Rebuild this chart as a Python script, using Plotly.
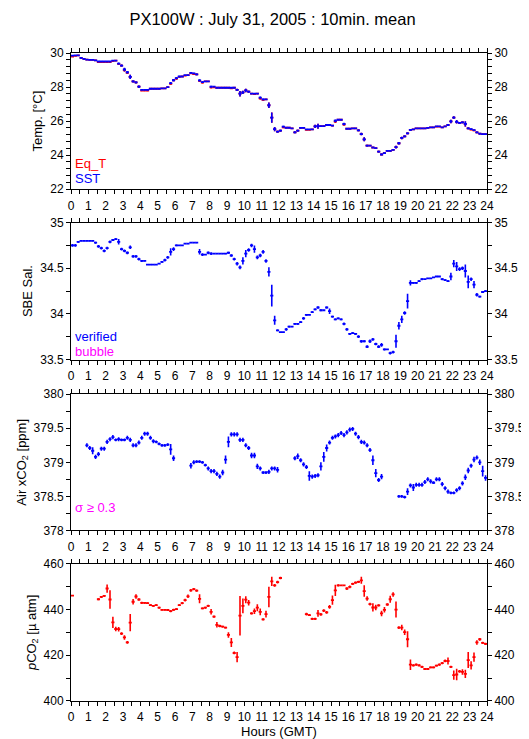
import plotly.graph_objects as go

N = 144
hours = [(i + 0.5) / 6 for i in range(N)]
half_bin = 0.09

# ---- Panel 1: temperature (6 values per hour) ----
sst = [
    29.84, 29.86, 29.86, 29.71, 29.65, 29.61,
    29.60, 29.60, 29.57, 29.50, 29.50, 29.50,
    29.50, 29.50, 29.55, 29.55, 29.38, 29.26,
    29.03, 28.87, 28.60, 28.33, 28.27, 28.02,
    27.83, 27.83, 27.83, 27.90, 27.90, 27.90,
    27.90, 27.92, 27.92, 28.00, 28.23, 28.40,
    28.52, 28.62, 28.62, 28.70, 28.70, 28.83,
    28.80, 28.74, 28.39, 28.29, 28.33, 28.33,
    28.02, 28.02, 27.96, 27.96, 27.96, 27.96,
    27.96, 27.96, 27.96, 27.84, 27.61, 27.69,
    27.80, 27.73, 27.61, 27.61, 27.61, 27.38,
    27.28, 27.28, 26.93, 26.21, 25.53, 25.38,
    25.44, 25.67, 25.61, 25.61, 25.57, 25.34,
    25.44, 25.60, 25.60, 25.51, 25.51, 25.51,
    25.69, 25.70, 25.71, 25.71, 25.77, 25.77,
    25.73, 26.02, 26.08, 26.08, 25.83, 25.55,
    25.55, 25.57, 25.57, 25.46, 25.24, 24.93,
    24.56, 24.56, 24.45, 24.41, 24.21, 24.04,
    24.12, 24.25, 24.25, 24.31, 24.47, 24.70,
    25.01, 25.10, 25.28, 25.48, 25.51, 25.57,
    25.57, 25.57, 25.57, 25.60, 25.63, 25.63,
    25.69, 25.69, 25.63, 25.69, 25.77, 25.98,
    26.21, 25.96, 25.90, 25.92, 25.84, 25.57,
    25.53, 25.47, 25.34, 25.26, 25.24, 25.24,
]
eq_t = [
    29.79, 29.83, 29.86, 29.71, 29.65, 29.61,
    29.60, 29.60, 29.57, 29.47, 29.47, 29.47,
    29.47, 29.47, 29.52, 29.55, 29.36, 29.26,
    29.00, 28.84, 28.60, 28.33, 28.27, 28.02,
    27.79, 27.79, 27.79, 27.90, 27.90, 27.90,
    27.90, 27.92, 27.92, 28.00, 28.19, 28.40,
    28.49, 28.60, 28.62, 28.67, 28.70, 28.80,
    28.76, 28.74, 28.36, 28.26, 28.33, 28.33,
    27.98, 27.98, 27.96, 27.96, 27.96, 27.96,
    27.96, 27.93, 27.96, 27.84, 27.61, 27.69,
    27.80, 27.73, 27.61, 27.58, 27.61, 27.33,
    27.25, 27.28, 26.93, 26.20, 25.53, 25.38,
    25.44, 25.63, 25.61, 25.61, 25.57, 25.34,
    25.44, 25.60, 25.60, 25.48, 25.48, 25.51,
    25.69, 25.70, 25.71, 25.71, 25.77, 25.77,
    25.73, 25.97, 26.08, 26.08, 25.80, 25.55,
    25.55, 25.57, 25.57, 25.46, 25.24, 24.93,
    24.56, 24.56, 24.45, 24.41, 24.21, 24.04,
    24.12, 24.25, 24.25, 24.31, 24.47, 24.70,
    25.01, 25.10, 25.28, 25.48, 25.51, 25.57,
    25.57, 25.57, 25.57, 25.60, 25.63, 25.63,
    25.67, 25.67, 25.63, 25.69, 25.77, 25.98,
    26.21, 25.96, 25.90, 25.92, 25.82, 25.57,
    25.50, 25.45, 25.34, 25.26, 25.24, 25.24,
]
sst_sd = [
    0, 0, 0, 0.03, 0.03, 0,
    0, 0, 0, 0, 0, 0,
    0, 0, 0, 0, 0.06, 0.06,
    0.10, 0.07, 0.12, 0.06, 0.06, 0.07,
    0, 0, 0, 0, 0, 0,
    0, 0, 0, 0, 0.06, 0.06,
    0.06, 0.05, 0, 0, 0, 0.04,
    0.04, 0.05, 0.07, 0.05, 0, 0,
    0.06, 0, 0, 0, 0, 0,
    0, 0, 0, 0.06, 0.16, 0.10,
    0.10, 0.06, 0, 0, 0, 0.07,
    0.05, 0, 0.16, 0.30, 0.12, 0.05,
    0.05, 0.05, 0, 0, 0, 0.06,
    0.05, 0.04, 0, 0, 0, 0,
    0.10, 0.15, 0, 0, 0, 0,
    0, 0.08, 0, 0, 0.07, 0,
    0, 0, 0, 0.05, 0.07, 0.12,
    0.05, 0, 0, 0, 0.05, 0.05,
    0.04, 0, 0, 0, 0.08, 0.08,
    0.07, 0.05, 0.05, 0.04, 0, 0,
    0, 0, 0, 0, 0, 0,
    0, 0, 0, 0, 0.05, 0.10,
    0.07, 0.10, 0.05, 0.05, 0.15, 0.05,
    0.04, 0.04, 0.05, 0.04, 0, 0,
]

# ---- Panel 2: SBE salinity ----
sal = [
    34.75, 34.75, 34.79, 34.80, 34.80, 34.80,
    34.80, 34.80, 34.78, 34.74, 34.72, 34.69,
    34.72, 34.79, 34.81, 34.82, 34.79, 34.71,
    34.69, 34.67, 34.73, 34.63, 34.63, 34.60,
    34.58, 34.58, 34.54, 34.54, 34.54, 34.54,
    34.55, 34.57, 34.59, 34.62, 34.68, 34.71,
    34.75, 34.75, 34.75, 34.77, 34.77, 34.78,
    34.78, 34.78, 34.68, 34.65, 34.65, 34.67,
    34.66, 34.66, 34.66, 34.66, 34.66, 34.66,
    34.67, 34.64, 34.60, 34.55, 34.51, 34.58,
    34.66, 34.70, 34.75, 34.71, 34.62, 34.64,
    34.68, 34.58, 34.46, 34.20, 33.93, 33.82,
    33.80, 33.80, 33.83, 33.86, 33.86, 33.89,
    33.89, 33.91, 33.95, 33.99, 33.99, 34.02,
    34.05, 34.07, 34.04, 34.04, 34.07, 34.03,
    33.97, 33.94, 33.95, 33.94, 33.89, 33.83,
    33.78, 33.79, 33.78, 33.75, 33.70, 33.70,
    33.64, 33.70, 33.72, 33.67, 33.64, 33.66,
    33.61, 33.61, 33.57, 33.58, 33.70, 33.87,
    33.94, 34.01, 34.14, 34.34, 34.34, 34.34,
    34.36, 34.38, 34.38, 34.39, 34.39, 34.40,
    34.41, 34.41, 34.38, 34.37, 34.36, 34.41,
    34.55, 34.52, 34.49, 34.50, 34.47, 34.35,
    34.38, 34.32, 34.21, 34.19, 34.24, 34.25,
]
sal_sd = [
    0.015, 0.015, 0.01, 0, 0, 0,
    0, 0, 0.01, 0.015, 0.015, 0.015,
    0.015, 0.015, 0.01, 0.01, 0.03, 0.015,
    0.015, 0.015, 0.02, 0.015, 0.015, 0.015,
    0.01, 0, 0, 0, 0, 0,
    0, 0.01, 0.015, 0.015, 0.04, 0.02,
    0.01, 0, 0, 0, 0, 0,
    0, 0, 0.03, 0.015, 0, 0.015,
    0.015, 0, 0, 0, 0, 0,
    0.01, 0.015, 0.015, 0.02, 0.02, 0.04,
    0.04, 0.02, 0.02, 0.04, 0.02, 0.02,
    0.02, 0.02, 0.05, 0.12, 0.05, 0.01,
    0, 0, 0.015, 0.01, 0, 0.01,
    0.01, 0.01, 0.015, 0.01, 0, 0.01,
    0.01, 0.015, 0.01, 0, 0.01, 0.03,
    0.01, 0.01, 0.01, 0.01, 0.015, 0.015,
    0.01, 0.01, 0.01, 0.015, 0.015, 0.01,
    0.015, 0.02, 0.015, 0.015, 0.015, 0.02,
    0.01, 0, 0.015, 0.015, 0.07, 0.04,
    0.04, 0.02, 0.08, 0.03, 0.01, 0.01,
    0.01, 0.01, 0, 0, 0, 0,
    0, 0, 0.01, 0.01, 0.01, 0.04,
    0.04, 0.05, 0.02, 0.02, 0.07, 0.07,
    0.02, 0.04, 0.02, 0.01, 0.01, 0.01,
]

# ---- Panel 3: air xCO2 ----
_ = None
air = [
    _, _, _, _, _, 379.25,
    379.21, 379.17, 379.08, 379.12, 379.20, 379.20,
    379.30, 379.34, 379.37, 379.33, 379.34, 379.33,
    379.33, 379.36, 379.33, 379.25, 379.25, 379.29,
    379.36, 379.42, 379.42, 379.36, 379.31, 379.30,
    379.27, 379.25, 379.25, 379.26, 379.19, 379.06,
    _, _, _, _, _, 378.95,
    379.00, 379.01, 379.01, 379.00, 378.96, 378.91,
    378.87, 378.87, 378.83, 378.79, 378.85, 379.04,
    379.30, 379.41, 379.41, 379.41, 379.33, 379.33,
    379.25, 379.21, 379.10, 379.10, 378.94, 378.91,
    378.85, 378.85, 378.86, 378.91, 378.91, 378.89,
    _, _, _, _, _, 379.06,
    379.09, 379.03, 378.97, 378.93, 378.80, 378.79,
    378.80, 378.81, 378.94, 379.08, 379.21, 379.29,
    379.36, 379.38, 379.40, 379.43, 379.40, 379.44,
    379.48, 379.49, 379.42, 379.37, 379.30, 379.29,
    379.25, 379.18, 379.03, 378.84, 378.74, 378.79,
    _, _, _, _, _, 378.50,
    378.50, 378.49, 378.57, 378.66, 378.63, 378.67,
    378.67, 378.67, 378.71, 378.75, 378.72, 378.70,
    378.75, 378.75, 378.68, 378.62, 378.57, 378.55,
    378.55, 378.59, 378.62, 378.69, 378.78, 378.88,
    378.95, 379.04, 379.07, 379.00, 378.87, 378.77,
]
air_sd = [
    0, 0, 0, 0, 0, 0.03,
    0.03, 0.05, 0.03, 0.03, 0.03, 0.03,
    0.03, 0.03, 0.03, 0.02, 0.03, 0.02,
    0.02, 0.03, 0.03, 0.03, 0.03, 0.03,
    0.03, 0.03, 0.03, 0.03, 0.03, 0.02,
    0.02, 0.02, 0.02, 0.02, 0.08, 0.04,
    0, 0, 0, 0, 0, 0.04,
    0.03, 0.02, 0.02, 0.02, 0.02, 0.03,
    0.03, 0.03, 0.03, 0.03, 0.04, 0.06,
    0.08, 0.03, 0.03, 0.03, 0.03, 0.03,
    0.03, 0.03, 0.04, 0.04, 0.04, 0.03,
    0.02, 0.02, 0.03, 0.03, 0.03, 0.04,
    0, 0, 0, 0, 0, 0.03,
    0.04, 0.03, 0.03, 0.03, 0.07, 0.03,
    0.03, 0.03, 0.06, 0.07, 0.05, 0.03,
    0.03, 0.03, 0.03, 0.03, 0.03, 0.03,
    0.03, 0.03, 0.03, 0.03, 0.03, 0.03,
    0.03, 0.03, 0.07, 0.06, 0.03, 0.04,
    0, 0, 0, 0, 0, 0.02,
    0.02, 0.02, 0.05, 0.03, 0.05, 0.03,
    0.03, 0.03, 0.03, 0.03, 0.03, 0.02,
    0.03, 0.03, 0.03, 0.03, 0.03, 0.02,
    0.02, 0.03, 0.03, 0.03, 0.04, 0.04,
    0.03, 0.04, 0.03, 0.04, 0.08, 0.04,
]

# ---- Panel 4: pCO2 ----
pco2 = [
    446.1, _, _, _, _, _,
    _, _, _, 444.5, 445.5, 446.0,
    449.2, 444.4, 434.4, 431.5, 431.4, 429.5,
    427.8, 425.6, 434.3, 443.4, 445.7, 444.4,
    442.9, 442.9, 442.8, 441.9, 441.6, 441.9,
    440.8, 439.9, 439.9, 439.8, 439.3, 439.9,
    440.2, 441.9, 442.8, 444.1, 445.8, 448.4,
    448.9, 448.3, 444.7, 440.5, 440.8, 441.6,
    439.0, 436.9, 433.3, 432.8, 432.5, 432.1,
    428.9, 425.6, 421.0, 419.2, 437.3, 441.6,
    444.3, 443.0, 438.3, 439.3, 440.8, 439.0,
    435.7, 438.0, 445.5, 452.3, 450.6, 452.0,
    453.8, _, _, _, _, _,
    _, _, _, 438.0, 437.6, 435.9,
    435.9, 438.3, 437.9, 439.5, 438.8, 441.2,
    444.1, 448.4, 450.6, 450.6, 450.6, 449.2,
    449.9, 451.2, 451.8, 452.1, 452.8, 448.1,
    444.8, 442.4, 440.9, 440.9, 441.8, 438.3,
    439.9, 442.2, 444.5, 446.6, 440.0, 432.1,
    432.1, 430.1, 427.0, 415.9, 415.6, 415.9,
    415.6, 414.9, 414.0, 414.0, 414.7, 414.7,
    415.5, 415.9, 416.6, 417.5, 417.5, 414.9,
    411.3, 411.6, 413.0, 412.7, 411.9, 417.9,
    415.6, 419.2, 425.6, 427.0, 425.4, 425.0,
]
pco2_sd = [
    0, 0, 0, 0, 0, 0,
    0, 0, 0, 0.4, 0.4, 0.4,
    1.8, 4.0, 2.5, 1.0, 1.0, 0.6,
    1.0, 0.6, 3.8, 1.2, 1.0, 0.5,
    0.5, 0.4, 0.4, 0.4, 0.4, 0.4,
    0.4, 0.3, 0.3, 0.3, 0.5, 0.4,
    0.4, 0.4, 0.5, 0.6, 0.8, 0.6,
    0.5, 0.5, 2.0, 0.4, 0.4, 0.5,
    1.2, 0.5, 1.2, 0.5, 0.4, 0.4,
    1.2, 2.0, 0.6, 2.2, 8.6, 3.2,
    1.5, 1.2, 0.5, 1.2, 1.5, 1.5,
    0.5, 1.5, 4.5, 2.0, 0.6, 0.6,
    0.5, 0, 0, 0, 0, 0,
    0, 0, 0, 0.6, 0.4, 0.5,
    0.5, 1.5, 0.6, 0.6, 0.6, 0.8,
    2.0, 2.5, 0.5, 0, 0, 0.6,
    0.6, 0.5, 0.5, 0.5, 1.5, 2.5,
    1.0, 0.6, 1.8, 1.2, 0.5, 1.2,
    1.2, 0.5, 1.5, 1.0, 3.5, 0.6,
    1.2, 1.2, 3.5, 2.3, 0.5, 0.5,
    0.5, 0.5, 0, 0, 0.4, 0.4,
    0.4, 0.5, 0.5, 0.6, 1.5, 0.5,
    2.0, 2.5, 0.6, 1.2, 1.8, 3.5,
    1.8, 2.0, 1.0, 0.6, 0.5, 0.5,
]

BLUE = "#0000FF"
RED = "#FF0000"
MAGENTA = "#FF00FF"
FONT = "Liberation Sans, Arial, sans-serif"

fig = go.Figure()


def add_series(y, sd, color, idx):
    xa = "x" if idx == 1 else f"x{idx}"
    ya = "y" if idx == 1 else f"y{idx}"
    fig.add_trace(go.Scatter(
        x=hours, y=y, mode="markers", xaxis=xa, yaxis=ya,
        marker=dict(size=1, color=color),
        error_x=dict(type="constant", value=half_bin, color=color, thickness=1.8, width=0),
        error_y=dict(type="data", array=sd, color=color, thickness=1.6, width=0),
        showlegend=False, hoverinfo="x+y",
    ))


add_series(eq_t, sst_sd, RED, 1)
add_series(sst, sst_sd, BLUE, 1)
add_series(sal, sal_sd, BLUE, 2)
add_series(air, air_sd, BLUE, 3)
add_series(pco2, pco2_sd, RED, 4)

# dummy traces for right-hand label axes
ranges = {1: [22, 30], 2: [33.5, 35], 3: [378, 380], 4: [400, 460]}
for k in range(1, 5):
    fig.add_trace(go.Scatter(x=[0], y=[ranges[k][0]], xaxis="x" if k == 1 else f"x{k}",
                             yaxis=f"y{k+4}", mode="markers", marker=dict(size=1, opacity=0),
                             showlegend=False, hoverinfo="skip"))

domains = {1: [0.7898, 1.0], 2: [0.527, 0.7382], 3: [0.2633, 0.4734], 4: [0.0, 0.2117]}
major = {1: 2, 2: 0.5, 3: 0.5, 4: 20}
minor = {1: 0.4, 2: 0.25, 3: 0.25, 4: 10}
titles = {1: "Temp. [°C]", 2: "SBE Sal.", 3: "Air xCO<sub>2</sub> [ppm]",
          4: "<i>p</i>CO<sub>2</sub> [µ atm]"}

tickfont = dict(family=FONT, size=12, color="black")
layout = dict(
    width=529, height=739,
    margin=dict(l=58, r=45, t=45, b=41),
    paper_bgcolor="white", plot_bgcolor="white",
    font=dict(family=FONT, size=12, color="black"),
    title=dict(text="PX100W : July 31, 2005 : 10min. mean", x=0.5, xanchor="center",
               y=0.985, yanchor="middle", font=dict(family=FONT, size=16.5, color="black")),
)
for k in range(1, 5):
    xn = "xaxis" if k == 1 else f"xaxis{k}"
    yn = "yaxis" if k == 1 else f"yaxis{k}"
    yid = "y" if k == 1 else f"y{k}"
    xid = "x" if k == 1 else f"x{k}"
    xa = dict(
        domain=[0, 1], anchor=yid, range=[0, 24], dtick=1, tick0=0,
        ticks="outside", ticklen=4, tickwidth=1, tickcolor="black",
        minor=dict(dtick=0.5, ticks="outside", ticklen=4, tickwidth=1, tickcolor="black"),
        showline=True, linecolor="black", linewidth=1, mirror="allticks",
        showgrid=False, zeroline=False, tickfont=tickfont, ticklabelstandoff=1,
    )
    if k == 4:
        xa["title"] = dict(text="Hours (GMT)", font=dict(family=FONT, size=13), standoff=1)
    layout[xn] = xa
    common = dict(
        domain=domains[k], range=ranges[k], dtick=major[k], tick0=ranges[k][0],
        ticks="outside", ticklen=4, tickwidth=1, tickcolor="black",
        minor=dict(dtick=minor[k], ticks="outside", ticklen=4, tickwidth=1, tickcolor="black"),
        showline=True, linecolor="black", linewidth=1,
        showgrid=False, zeroline=False, tickfont=tickfont,
    )
    layout[yn] = dict(common, anchor=xid, side="left",
                      title=dict(text=titles[k], font=dict(family=FONT, size=13), standoff=4))
    layout[f"yaxis{k+4}"] = dict(common, anchor=xid, overlaying=yid, side="right")

fig.update_layout(**layout)

ann = [
    ("Eq_T", RED, "y", 23.5),
    ("SST", BLUE, "y", 22.62),
    ("verified", BLUE, "y2", 33.75),
    ("bubble", MAGENTA, "y2", 33.59),
    ("σ ≥ 0.3", MAGENTA, "y3", 378.33),
]
for text, col, yr, yv in ann:
    fig.add_annotation(text=text, x=0.12, y=yv, xref="x" if yr == "y" else "x" + yr[1:],
                       yref=yr, xanchor="left", yanchor="middle", showarrow=False,
                       font=dict(family=FONT, size=13, color=col))

fig.write_html("out.html")
